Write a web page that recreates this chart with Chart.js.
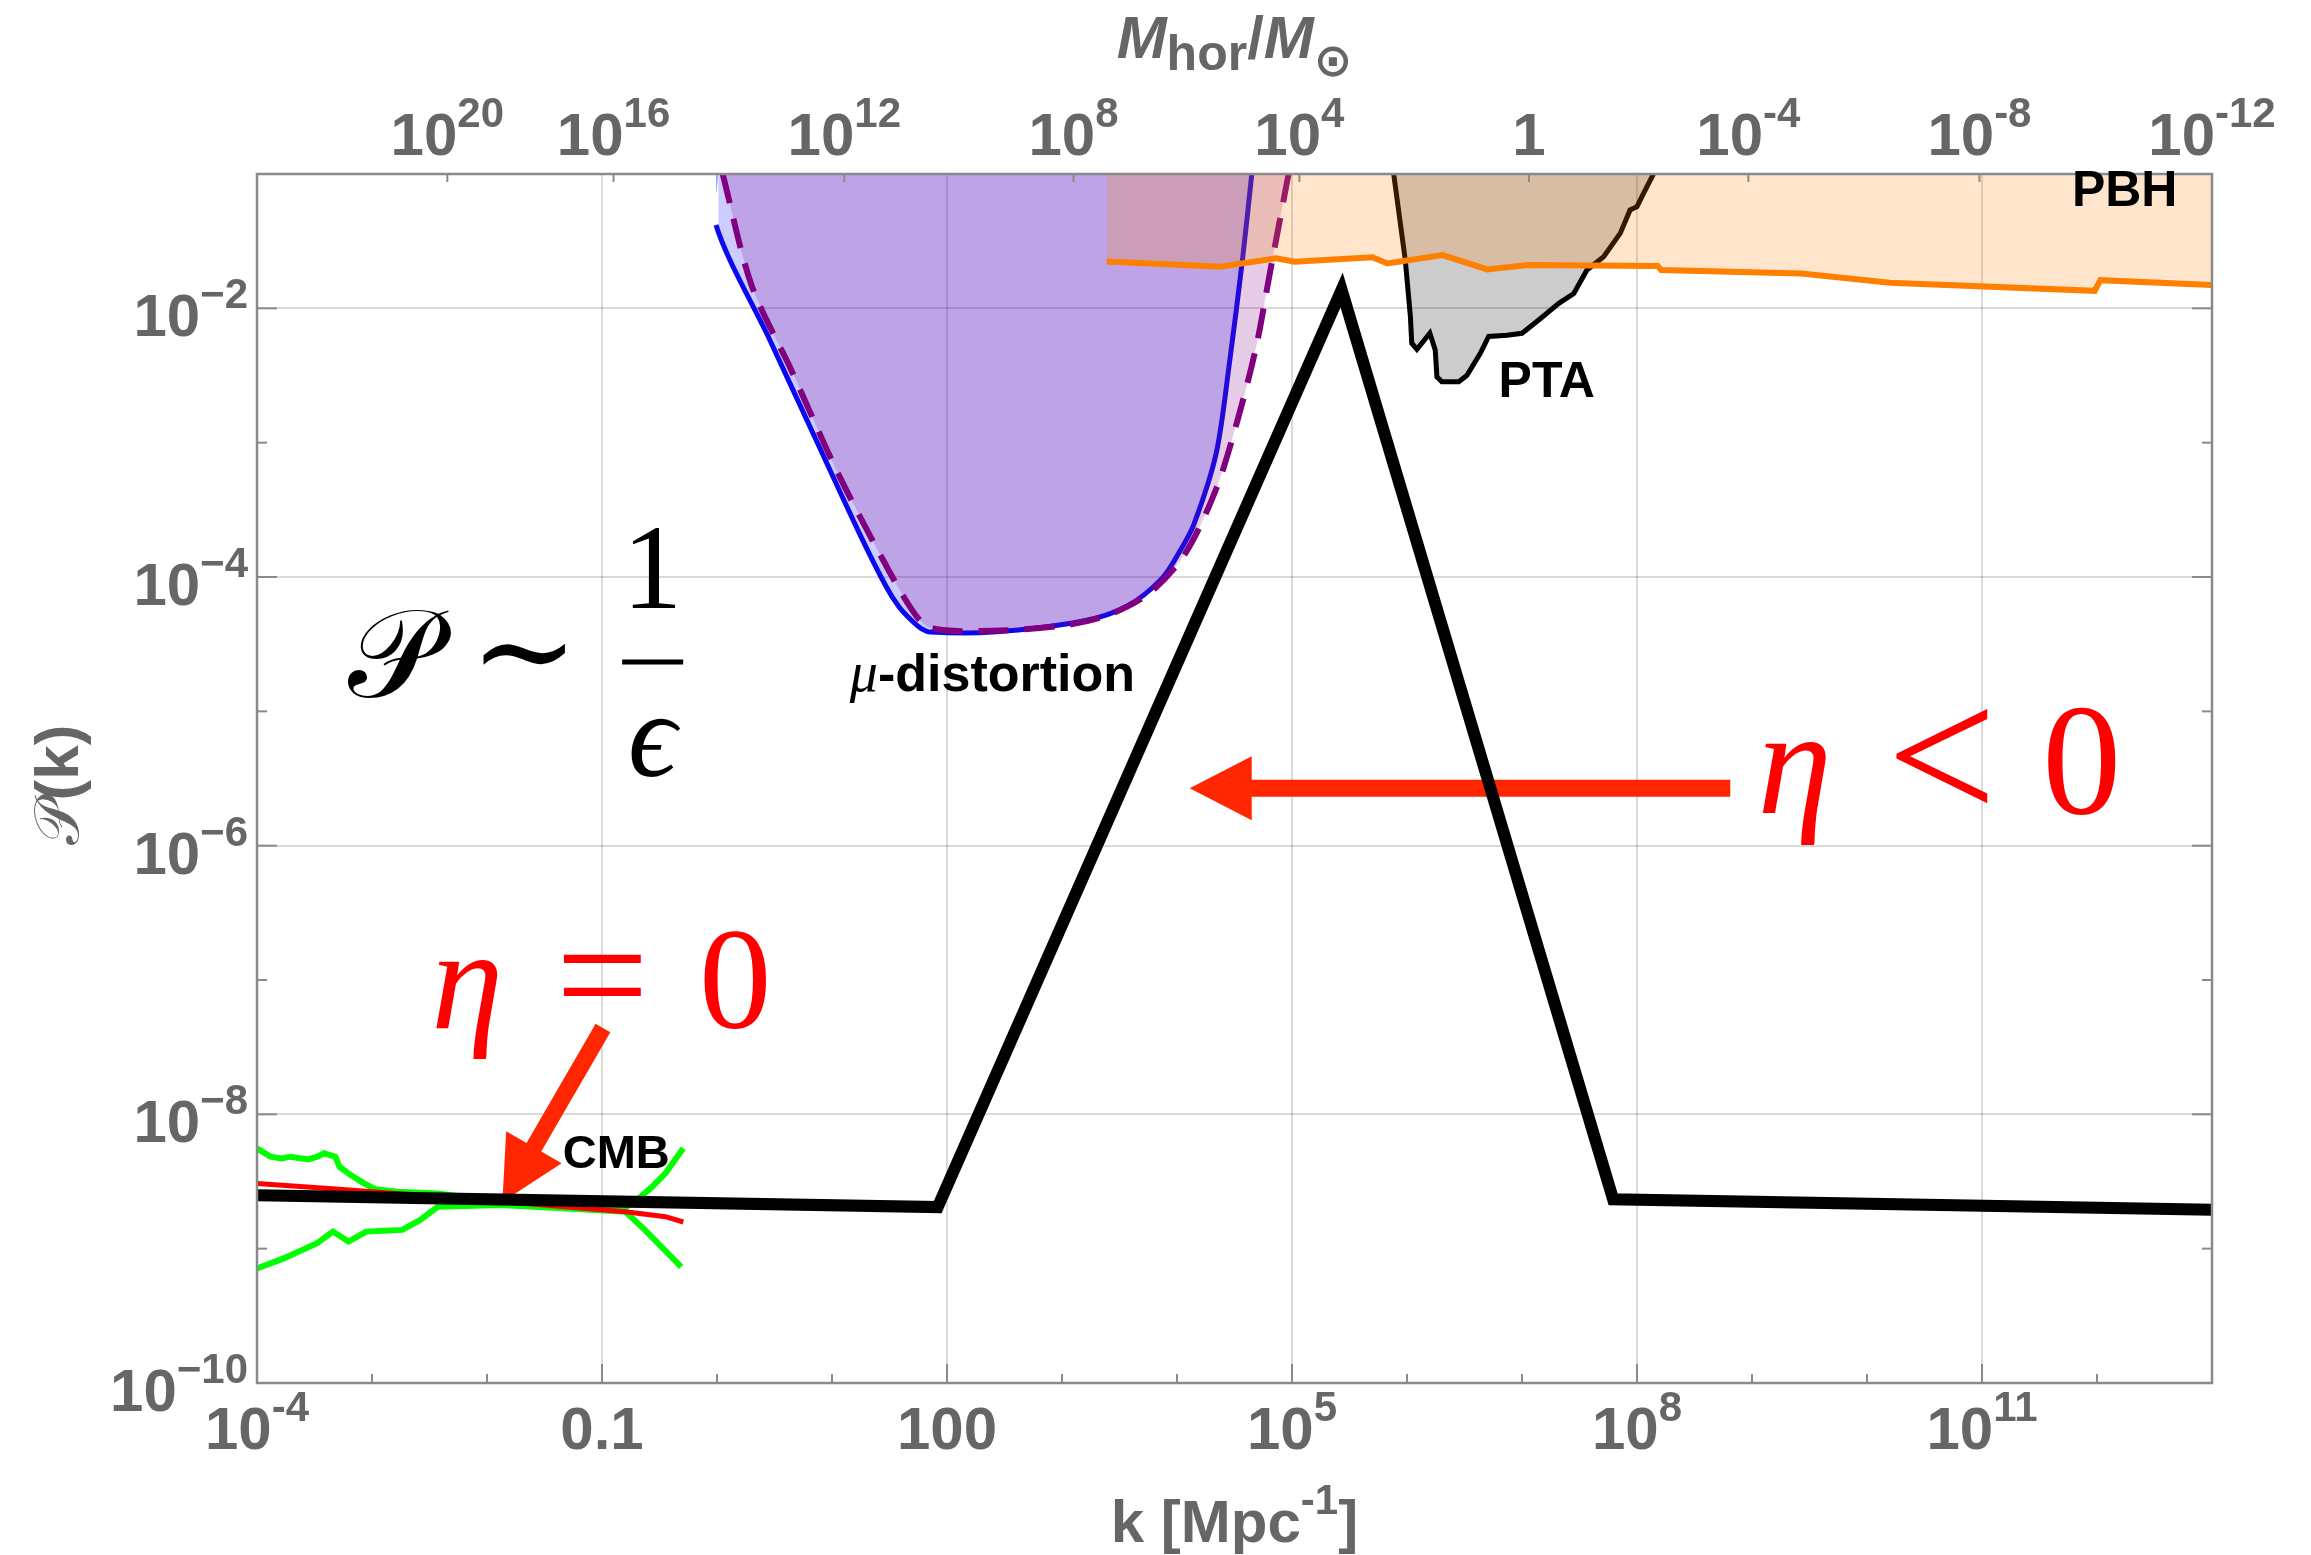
<!DOCTYPE html>
<html>
<head>
<meta charset="utf-8">
<script src="https://cdn.jsdelivr.net/npm/chart.js@4.4.1/dist/chart.umd.min.js"></script>
<style>
  html, body { margin: 0; padding: 0; background: #fff; }
</style>
</head>
<body>
<canvas id="pk" width="2311" height="1555"></canvas>
<script>
// ---- values ----
// main power spectrum P(k)
const spectrumK = [1e-4, 83, 2.7e5, 6.2e7, 1e13];
const spectrumP = [2.5e-9, 2.04e-9, 1.37e-2, 2.33e-9, 1.95e-9];

// CMB band (upper / lower bound, central value)
const cmbUpperK = [1e-4, 1.31e-4, 1.63e-4, 1.95e-4, 2.79e-4, 3.34e-4, 3.83e-4, 4.79e-4, 5.22e-4, 6.53e-4, 8.53e-4, 1.07e-3, 1.67e-3, 3.73e-3, 1.31e-2, 4.56e-2, 0.160, 0.209, 0.273, 0.356, 0.509];
const cmbUpperP = [5.58e-9, 4.84e-9, 4.70e-9, 4.84e-9, 4.62e-9, 4.84e-9, 5.13e-9, 4.84e-9, 4.07e-9, 3.53e-9, 3.06e-9, 2.77e-9, 2.65e-9, 2.58e-9, 2.24e-9, 2.11e-9, 2.03e-9, 2.37e-9, 2.89e-9, 3.64e-9, 5.58e-9];
const cmbLowerK = [1e-4, 1.71e-4, 2.14e-4, 3.34e-4, 4.57e-4, 6.25e-4, 8.91e-4, 1.83e-3, 2.61e-3, 3.73e-3, 1.31e-2, 4.56e-2, 0.160, 0.228, 0.341, 0.488];
const cmbLowerP = [7.13e-10, 8.47e-10, 9.23e-10, 1.10e-9, 1.34e-9, 1.13e-9, 1.34e-9, 1.38e-9, 1.63e-9, 2.05e-9, 2.11e-9, 2.0e-9, 1.88e-9, 1.42e-9, 1.0e-9, 7.33e-10];
const cmbMidK = [1e-4, 5.22e-4, 1.31e-2, 0.160, 0.356, 0.509];
const cmbMidP = [3.06e-9, 2.77e-9, 2.24e-9, 1.88e-9, 1.73e-9, 1.58e-9];

// mu-distortion bounds (solid blue, dashed purple)
const muSolidK = [1.03, 0.98, 2.86, 7.01, 17.1, 29.3, 38.3, 50.1, 59.8, 71.6, 251, 1496, 3631, 7413, 1.07e4, 1.40e4, 2.19e4, 2.85e4, 3.73e4, 4.47e4];
const muSolidP = [0.1, 4.17e-2, 5.89e-3, 1.12e-3, 2.16e-4, 8.6e-5, 5.98e-5, 4.68e-5, 4.13e-5, 3.89e-5, 3.89e-5, 4.68e-5, 6.03e-5, 9.77e-5, 1.58e-4, 2.45e-4, 8.3e-4, 3.85e-3, 2.4e-2, 0.1];
const muDashK = [1.12, 2.0, 4.48, 11.0, 26.9, 50.1, 71.6, 251, 1047, 2570, 5754, 1.17e4, 2.19e4, 3.39e4, 4.9e4, 6.38e4, 9.33e4];
const muDashP = [0.1, 1.48e-2, 3.39e-3, 6.17e-4, 1.41e-4, 5.62e-5, 4.17e-5, 3.98e-5, 4.37e-5, 5.25e-5, 7.59e-5, 1.48e-4, 4.52e-4, 1.51e-3, 5.25e-3, 1.78e-2, 0.1];

// PBH bound
const pbhK = [2443, 5888, 2.38e4, 7.29e4, 1.05e5, 5.01e5, 6.76e5, 2.04e6, 4.98e6, 1.12e7, 1.51e8, 1.62e8, 2.69e9, 1.58e10, 9.55e11, 1.07e12, 1e13];
const pbhP = [2.23e-2, 2.16e-2, 2.04e-2, 2.36e-2, 2.22e-2, 2.4e-2, 2.16e-2, 2.49e-2, 1.95e-2, 2.1e-2, 2.07e-2, 1.93e-2, 1.82e-2, 1.55e-2, 1.35e-2, 1.62e-2, 1.49e-2];

// PTA bound
const ptaK = [7.66e5, 9.66e5, 1.07e6, 1.10e6, 1.22e6, 1.58e6, 1.76e6, 1.82e6, 2.01e6, 2.82e6, 3.31e6, 4.34e6, 5.13e6, 7.41e6, 1e7, 1.45e7, 2.09e7, 2.82e7, 3.67e7, 5.13e7, 7.16e7, 8.71e7, 1e8, 1.14e8, 1.39e8];
const ptaP = [0.1, 2.29e-2, 8.71e-3, 5.5e-3, 4.95e-3, 6.52e-3, 4.9e-3, 3.09e-3, 2.84e-3, 2.84e-3, 3.16e-3, 4.62e-3, 6.17e-3, 6.31e-3, 6.52e-3, 8.41e-3, 1.09e-2, 1.29e-2, 1.93e-2, 2.42e-2, 3.63e-2, 5.4e-2, 5.71e-2, 7.18e-2, 0.1];

// axes
const kMin = 1e-4, kMax = 1e13, pMin = 1e-10, pMax = 1e-1;
const kTickVals = [1e-4, 0.1, 100, 1e5, 1e8, 1e11];
const kTickText = ['10^-4', '0.1', '100', '10^5', '10^8', '10^11'];
const kMinorVals = [1e-3, 1e-2, 1, 10, 1e3, 1e4, 1e6, 1e7, 1e9, 1e10, 1e12];
const pTickVals = [1e-10, 1e-8, 1e-6, 1e-4, 1e-2];
const pTickText = ['10^-10', '10^-8', '10^-6', '10^-4', '10^-2'];
const pMinorVals = [1e-9, 1e-7, 1e-5, 1e-3];
// top axis: horizon mass, placed at the k it corresponds to
const mTickText = ['10^20', '10^16', '10^12', '10^8', '10^4', '1', '10^-4', '10^-8', '10^-12'];
const mTickK = [4.52e-3, 0.126, 12.8, 1.26e3, 1.16e5, 1.15e7, 9.3e8, 9.5e10, 1e13];

// ---- drawing helpers ----
const SANS = '"Liberation Sans", Arial, Helvetica, sans-serif';
const SERIF = '"Liberation Serif", "DejaVu Serif", "Times New Roman", serif';
const MATH = '"DejaVu Sans", "DejaVu Serif", "Noto Sans", serif';
const GRAY = '#666666';

const pts = (ks, ps) => ks.map((k, i) => ({ x: k, y: ps[i] }));

function drawRich(ctx, parts, x, y, align) {
    let w = 0;
    parts.forEach(p => {
        ctx.font = p.font;
        p.w = ctx.measureText(p.t).width;
        w += p.w + (p.gap || 0);
    });
    let cx = align === 'center' ? x - w / 2 : align === 'right' ? x - w : x;
    ctx.textAlign = 'left';
    ctx.textBaseline = 'alphabetic';
    parts.forEach(p => {
        ctx.font = p.font;
        ctx.fillText(p.t, cx, y + (p.dy || 0));
        cx += p.w + (p.gap || 0);
    });
}

function powerParts(label, minus) {
    const i = label.indexOf('^');
    if (i < 0) return [{ t: label, font: `bold 60px ${SANS}` }];
    return [
        { t: label.slice(0, i), font: `bold 60px ${SANS}` },
        { t: label.slice(i + 1).replace('-', minus), font: `bold 42px ${SANS}`, dy: -28 }
    ];
}

function arrow(ctx, x0, y0, x1, y1, shaftW, headLen, headHalf) {
    const dx = x1 - x0, dy = y1 - y0;
    const len = Math.hypot(dx, dy);
    const ux = dx / len, uy = dy / len, nx = -uy, ny = ux;
    const bx = x1 - ux * headLen, by = y1 - uy * headLen;
    ctx.beginPath();
    ctx.moveTo(x0 + nx * shaftW / 2, y0 + ny * shaftW / 2);
    ctx.lineTo(bx + nx * shaftW / 2, by + ny * shaftW / 2);
    ctx.lineTo(bx + nx * headHalf, by + ny * headHalf);
    ctx.lineTo(x1, y1);
    ctx.lineTo(bx - nx * headHalf, by - ny * headHalf);
    ctx.lineTo(bx - nx * shaftW / 2, by - ny * shaftW / 2);
    ctx.lineTo(x0 - nx * shaftW / 2, y0 - ny * shaftW / 2);
    ctx.closePath();
    ctx.fill();
}

const framePlugin = {
    id: 'framePlugin',
    beforeDatasetsDraw(chart) {
        const ctx = chart.ctx, xs = chart.scales.x, ys = chart.scales.y;
        ctx.save();
        ctx.fillStyle = '#ff2600';
        // eta < 0 arrow
        arrow(ctx, xs.getPixelForValue(6.47e8), ys.getPixelForValue(2.68e-6),
            xs.getPixelForValue(1.29e4), ys.getPixelForValue(2.68e-6), 17, 62, 32);
        // eta = 0 arrow
        arrow(ctx, xs.getPixelForValue(0.102), ys.getPixelForValue(4.4e-8),
            xs.getPixelForValue(0.0136), ys.getPixelForValue(2.23e-9), 17, 63, 32);
        ctx.restore();
    },
    afterDraw(chart) {
        const ctx = chart.ctx, xs = chart.scales.x, ys = chart.scales.y;
        const { left, right, top, bottom } = chart.chartArea;
        const line = (a, b, c, d) => { ctx.beginPath(); ctx.moveTo(a, b); ctx.lineTo(c, d); ctx.stroke(); };
        ctx.save();

        // frame and inward ticks
        ctx.strokeStyle = '#8a8a8a';
        ctx.lineWidth = 2.5;
        ctx.strokeRect(left, top, right - left, bottom - top);
        ctx.lineWidth = 2;
        kTickVals.forEach(v => { const x = xs.getPixelForValue(v); line(x, bottom, x, bottom - 19); });
        kMinorVals.forEach(v => { const x = xs.getPixelForValue(v); line(x, bottom, x, bottom - 9); });
        mTickK.forEach(v => { const x = xs.getPixelForValue(v); line(x, top, x, top + 8); });
        pTickVals.forEach(v => {
            const y = ys.getPixelForValue(v);
            line(left, y, left + 20, y); line(right, y, right - 20, y);
        });
        pMinorVals.forEach(v => {
            const y = ys.getPixelForValue(v);
            line(left, y, left + 10, y); line(right, y, right - 10, y);
        });

        // tick labels
        ctx.fillStyle = GRAY;
        kTickVals.forEach((v, i) => drawRich(ctx, powerParts(kTickText[i], '-'), xs.getPixelForValue(v), bottom + 66, 'center'));
        mTickK.forEach((v, i) => drawRich(ctx, powerParts(mTickText[i], '-'), xs.getPixelForValue(v), top - 19, 'center'));
        pTickVals.forEach((v, i) => drawRich(ctx, powerParts(pTickText[i], '\u2212'), left - 9, ys.getPixelForValue(v) + 28, 'right'));

        // axis titles
        drawRich(ctx, [
            { t: 'k [Mpc', font: `bold 60px ${SANS}` },
            { t: '-1', font: `bold 42px ${SANS}`, dy: -28 },
            { t: ']', font: `bold 60px ${SANS}` }
        ], (left + right) / 2, 1542, 'center');
        drawRich(ctx, [
            { t: 'M', font: `italic bold 60px ${SANS}` },
            { t: 'hor', font: `bold 50px ${SANS}`, dy: 12 },
            { t: '/', font: `bold 60px ${SANS}` },
            { t: 'M', font: `italic bold 60px ${SANS}` },
            { t: '\u2299', font: `bold 46px "DejaVu Sans", ${SANS}`, dy: 18 }
        ], (left + right) / 2, 58, 'center');
        ctx.save();
        ctx.translate(78, 785);
        ctx.rotate(-Math.PI / 2);
        drawRich(ctx, [
            { t: '\u{1D4AB}', font: `62px ${MATH}` },
            { t: '(k)', font: `bold 62px ${SANS}` }
        ], 0, 0, 'center');
        ctx.restore();

        // region labels
        ctx.fillStyle = '#000';
        ctx.textAlign = 'center';
        ctx.font = `bold 47px ${SANS}`;
        ctx.fillText('CMB', xs.getPixelForValue(0.133), ys.getPixelForValue(3.98e-9));
        ctx.font = `bold 50px ${SANS}`;
        ctx.fillText('PTA', xs.getPixelForValue(1.64e7), ys.getPixelForValue(2.18e-3));
        ctx.fillText('PBH', xs.getPixelForValue(1.74e12), ys.getPixelForValue(5.78e-2));
        drawRich(ctx, [
            { t: '\u03BC', font: `italic 56px ${SERIF}` },
            { t: '-distortion', font: `bold 52px ${SANS}` }
        ], xs.getPixelForValue(14.3), ys.getPixelForValue(1.41e-5), 'left');

        // P ~ 1/epsilon
        let x0 = xs.getPixelForValue(6.46e-4), y0 = ys.getPixelForValue(1.28e-5);
        ctx.textAlign = 'center';
        ctx.font = `125px ${MATH}`;
        ctx.fillText('\u{1D4AB}', x0 + 43, y0);
        ctx.font = `130px ${SERIF}`;
        ctx.fillText('\u223C', x0 + 174, y0 - 2);
        ctx.font = `120px ${SERIF}`;
        ctx.fillText('1', x0 + 302, y0 - 89);
        ctx.font = `italic 120px ${SERIF}`;
        ctx.fillText('\u03F5', x0 + 302, y0 + 79);
        ctx.strokeStyle = '#000';
        ctx.lineWidth = 5;
        line(x0 + 272, y0 - 35, x0 + 333, y0 - 35);

        // eta < 0
        ctx.fillStyle = '#ff0000';
        x0 = xs.getPixelForValue(1.1e9); y0 = ys.getPixelForValue(1.75e-6);
        ctx.font = `italic 150px ${SERIF}`;
        ctx.fillText('\u03B7', x0 + 38, y0);
        ctx.font = `195px ${SERIF}`;
        ctx.fillText('<', x0 + 185, y0 + 8);
        ctx.font = `158px ${SERIF}`;
        ctx.fillText('0', x0 + 325, y0);

        // eta = 0
        x0 = xs.getPixelForValue(3.41e-3); y0 = ys.getPixelForValue(4.4e-8);
        ctx.font = `italic 145px ${SERIF}`;
        ctx.fillText('\u03B7', x0 + 34, y0);
        ctx.font = `165px ${SERIF}`;
        ctx.fillText('=', x0 + 169, y0 + 2);
        ctx.font = `145px ${SERIF}`;
        ctx.fillText('0', x0 + 302, y0);

        ctx.restore();
    }
};

new Chart(document.getElementById('pk'), {
    type: 'line',
    data: {
        datasets: [
            { label: 'P(k)', data: pts(spectrumK, spectrumP), borderColor: '#000000', borderWidth: 12, borderJoinStyle: 'miter', fill: false, order: 0 },
            { label: 'CMB central', data: pts(cmbMidK, cmbMidP), borderColor: '#ff0000', borderWidth: 5, fill: false, order: 1 },
            { label: 'CMB upper', data: pts(cmbUpperK, cmbUpperP), borderColor: '#00ff00', borderWidth: 6, fill: false, order: 2 },
            { label: 'CMB lower', data: pts(cmbLowerK, cmbLowerP), borderColor: '#00ff00', borderWidth: 6, fill: false, order: 3 },
            { label: 'PBH', data: pts(pbhK, pbhP), borderColor: '#ff7f00', borderWidth: 6, fill: 'end', backgroundColor: 'rgba(255,127,0,0.2)', order: 4 },
            { label: 'mu dashed', data: pts(muDashK, muDashP), borderColor: '#800080', borderWidth: 6, borderDash: [30, 16], tension: 0.3, fill: 'end', backgroundColor: 'rgba(128,0,128,0.2)', order: 5 },
            {
                label: 'mu solid', data: pts(muSolidK, muSolidP), borderColor: '#0a0af0', borderWidth: 5, tension: 0.3, fill: 'end', backgroundColor: 'rgba(0,0,255,0.2)', order: 6,
                segment: { borderColor: c => c.p0DataIndex === 0 ? 'rgba(0,0,0,0)' : undefined }
            },
            { label: 'PTA', data: pts(ptaK, ptaP), borderColor: '#000000', borderWidth: 5, fill: 'end', backgroundColor: 'rgba(0,0,0,0.2)', order: 7 }
        ]
    },
    options: {
        responsive: false,
        animation: false,
        events: [],
        layout: { padding: { top: 174, right: 99, left: 0, bottom: 0 } },
        elements: { point: { radius: 0 }, line: { tension: 0, borderCapStyle: 'butt' } },
        plugins: { legend: { display: false }, tooltip: { enabled: false } },
        scales: {
            x: {
                type: 'logarithmic', min: kMin, max: kMax,
                ticks: { display: false },
                grid: { color: 'rgba(0,0,0,0.15)', lineWidth: 2, drawTicks: false },
                border: { display: false },
                afterBuildTicks: axis => { axis.ticks = kTickVals.map(v => ({ value: v })); },
                afterFit: axis => { axis.height = 172; }
            },
            y: {
                type: 'logarithmic', min: pMin, max: pMax,
                ticks: { display: false },
                grid: { color: 'rgba(0,0,0,0.15)', lineWidth: 2, drawTicks: false },
                border: { display: false },
                afterBuildTicks: axis => { axis.ticks = pTickVals.map(v => ({ value: v })); },
                afterFit: axis => { axis.width = 257; }
            }
        }
    },
    plugins: [framePlugin]
});
</script>
</body>
</html>
